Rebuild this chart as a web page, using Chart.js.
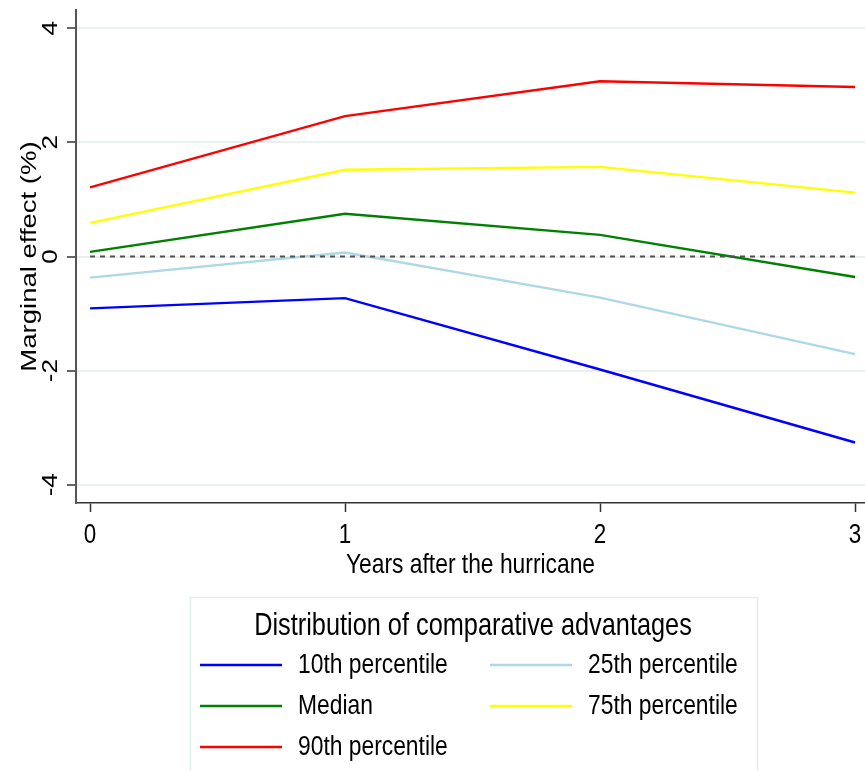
<!DOCTYPE html>
<html><head><meta charset="utf-8">
<script src="https://cdn.jsdelivr.net/npm/chart.js@4.4.1/dist/chart.umd.min.js"></script>
<style>html,body{margin:0;padding:0;background:#fff;} canvas{display:block;}</style>
</head><body>
<canvas id="c" width="865" height="771"></canvas>
<script>
// ---- data ----
const years = [0, 1, 2, 3];
const xTickLabels = ['0', '1', '2', '3'];
const yTickValues = [-4, -2, 0, 2, 4];
const yTickLabels = ['-4', '-2', '0', '2', '4'];
const seriesNames = ['10th percentile', '25th percentile', 'Median', '75th percentile', '90th percentile'];
const p10    = [-0.91, -0.73, -1.98, -3.26];
const p25    = [-0.37,  0.07, -0.72, -1.71];
const median = [ 0.08,  0.75,  0.38, -0.36];
const p75    = [ 0.59,  1.52,  1.57,  1.12];
const p90    = [ 1.21,  2.46,  3.07,  2.97];
const zeroLine = [0, 0, 0, 0];
const xTitle = 'Years after the hurricane';
const yTitle = 'Marginal effect (%)';
const legendTitle = 'Distribution of comparative advantages';

// ---- styles ----
const colors = ['#0000ff', '#add8e6', '#008000', '#ffff00', '#ff0000'];
const FONT = '"Liberation Sans", Arial, sans-serif';
const SQUISH = 0.83; // reference text is horizontally condensed

const canvas = document.getElementById('c');
const ctx2d = canvas.getContext('2d');
const origFill = ctx2d.fillText.bind(ctx2d);
ctx2d.fillText = function (text, x, y, maxWidth) {
  const M = this.getTransform();
  const p = M.transformPoint(new DOMPoint(x, y));
  const N = new DOMMatrix().translate(p.x, p.y).scale(SQUISH, 1).translate(-p.x, -p.y).multiply(M);
  this.setTransform(N);
  if (maxWidth === undefined || maxWidth === null) origFill(text, x, y); else origFill(text, x, y, maxWidth);
  this.setTransform(M);
};

const seriesValues = [p10, p25, median, p75, p90];
const toPts = (arr) => years.map((x, i) => ({ x: x, y: arr[i] }));

const datasets = [{
  label: 'zero', isRef: true, data: toPts(zeroLine),
  borderColor: '#505050', borderWidth: 2, borderDash: [5, 5], pointRadius: 0, tension: 0
}].concat(seriesNames.map((name, k) => ({
  label: name, data: toPts(seriesValues[k]), borderColor: colors[k], backgroundColor: colors[k],
  borderWidth: 2.4, pointRadius: 0, tension: 0, fill: false
})));

const whiteBg = {
  id: 'whiteBg',
  beforeDraw(chart) {
    const c = chart.ctx; c.save(); c.fillStyle = '#fff';
    c.fillRect(0, 0, chart.width, chart.height); c.restore();
  }
};

const legendBox = {
  id: 'legendBox',
  afterDraw(chart) {
    const ctx = chart.ctx;
    ctx.save();
    ctx.strokeStyle = '#e4eced'; ctx.lineWidth = 1.5;
    ctx.strokeRect(190.5, 597.5, 567, 200);
    ctx.fillStyle = '#000';
    ctx.textAlign = 'center'; ctx.textBaseline = 'middle';
    ctx.font = '30.5px ' + FONT;
    ctx.fillText(legendTitle, 473, 627);
    const items = chart.data.datasets.filter(d => !d.isRef);
    items.forEach((d, i) => {
      const col = i % 2, row = Math.floor(i / 2);
      const x0 = [200, 490][col];
      const y = 665 + row * 41;
      ctx.strokeStyle = d.borderColor; ctx.lineWidth = 2.5;
      ctx.beginPath(); ctx.moveTo(x0, y); ctx.lineTo(x0 + 82, y); ctx.stroke();
      ctx.fillStyle = '#000'; ctx.textAlign = 'left'; ctx.textBaseline = 'middle';
      ctx.font = '27.5px ' + FONT;
      ctx.fillText(d.label, x0 + 98, y);
    });
    ctx.restore();
  }
};

new Chart(canvas, {
  type: 'line',
  data: { datasets: datasets },
  plugins: [whiteBg, legendBox],
  options: {
    responsive: false, animation: false, devicePixelRatio: 1,
    layout: { padding: { top: 10, right: 0, left: 0, bottom: 181 } },
    plugins: { legend: { display: false }, tooltip: { enabled: false } },
    scales: {
      x: {
        type: 'linear', min: -0.055, max: 3.039,
        afterBuildTicks: (s) => { s.ticks = years.map(v => ({ value: v })); },
        afterFit: (s) => { s.height = 87; s.paddingLeft = 0; s.paddingRight = 0; },
        ticks: {
          color: '#000', padding: 7, maxRotation: 0, minRotation: 0,
          font: { family: FONT, size: 27 },
          callback: (v) => xTickLabels[years.indexOf(v)]
        },
        grid: { drawOnChartArea: false, drawTicks: true, tickLength: 9, tickColor: '#333', tickWidth: 1.5 },
        border: { display: true, color: '#333', width: 1.5 },
        title: { display: true, text: xTitle, color: '#000', font: { family: FONT, size: 27.5, lineHeight: 1 }, padding: { top: 0, bottom: 11 } }
      },
      y: {
        type: 'linear', min: -4.32, max: 4.32,
        afterBuildTicks: (s) => { s.ticks = yTickValues.map(v => ({ value: v })); },
        afterFit: (s) => { s.width = 76; s.paddingTop = 0; s.paddingBottom = 0; },
        ticks: {
          color: '#000', padding: 4, minRotation: 90, maxRotation: 90, crossAlign: 'center',
          font: { family: FONT, size: 26 },
          callback: (v) => yTickLabels[yTickValues.indexOf(v)]
        },
        grid: { color: '#e8f0f1', lineWidth: 2, drawTicks: true, tickLength: 9, tickColor: '#333', tickWidth: 1.5 },
        border: { display: true, color: '#555', width: 2 },
        title: { display: true, text: yTitle, color: '#000', font: { family: FONT, size: 27.5, lineHeight: 1 }, padding: { top: 16, bottom: 0 } }
      }
    }
  }
});
</script>
</body></html>
